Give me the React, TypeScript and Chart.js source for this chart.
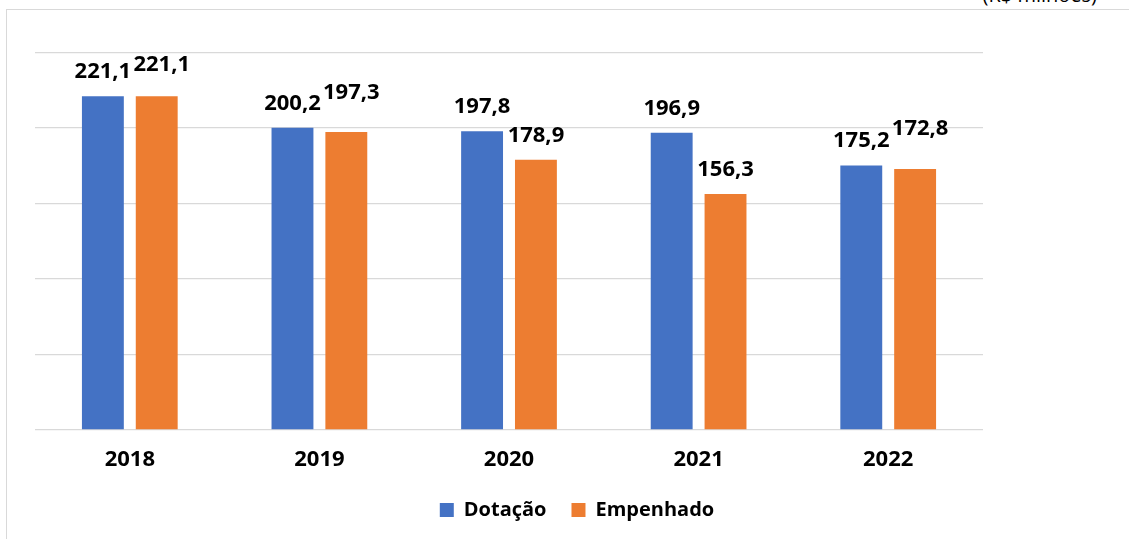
import React, { useEffect, useRef } from "react";
import { Chart, registerables } from "chart.js";

Chart.register(...registerables);

const categories = ["2018", "2019", "2020", "2021", "2022"];
const dotacao = [221.1, 200.2, 197.8, 196.9, 175.2];
const empenhado = [221.1, 197.3, 178.9, 156.3, 172.8];
const seriesNames = ["Dotação", "Empenhado"];
const unitLabel = "(R$ milhões)";

const BLUE = "#4472C4";
const ORANGE = "#ED7D31";
const GRID = "#d9d9d9";
const FONT = "'Open Sans', 'DejaVu Sans', sans-serif";

// label nudges (px) per dataset, to mimic the manual placement in the source
const labelNudges = [
  { dx: [0, 0, 0, 0, 0], dy: [0, 0, 0, 0, 0] },
  { dx: [5, 5, 0, 0, 5], dy: [-7, -15, 0, 0, -16] },
];

const fmt = (v: number) => v.toFixed(1).replace(".", ",");

const labelPlugin = {
  id: "barValueLabels",
  afterDatasetsDraw(chart: any) {
    const ctx = chart.ctx;
    ctx.save();
    ctx.font = `bold 22px ${FONT}`;
    ctx.fillStyle = "#000";
    ctx.textAlign = "center";
    ctx.textBaseline = "alphabetic";
    chart.data.datasets.forEach((ds: any, di: number) => {
      const meta = chart.getDatasetMeta(di);
      meta.data.forEach((el: any, i: number) => {
        const n = labelNudges[di];
        ctx.fillText(fmt(ds.data[i]), el.x + n.dx[i], el.y - 18 + n.dy[i]);
      });
    });
    ctx.restore();
  },
};

export default function App() {
  const ref = useRef<HTMLCanvasElement | null>(null);
  useEffect(() => {
    if (!ref.current) return;
    const chart = new Chart(ref.current, {
      type: "bar",
      data: {
        labels: categories,
        datasets: [
          {
            label: seriesNames[0],
            data: dotacao,
            backgroundColor: BLUE,
            categoryPercentage: 0.568,
            barPercentage: 0.778,
          },
          {
            label: seriesNames[1],
            data: empenhado,
            backgroundColor: ORANGE,
            categoryPercentage: 0.568,
            barPercentage: 0.778,
          },
        ],
      },
      options: {
        animation: false,
        responsive: false,
        maintainAspectRatio: false,
        layout: { padding: { left: 0, right: 0, top: 42.5, bottom: 9 } },
        plugins: {
          tooltip: { enabled: false },
          legend: {
            position: "bottom",
            labels: {
              boxWidth: 14,
              boxHeight: 14,
              padding: 25,
              color: "#000",
              font: { family: FONT, size: 20, weight: "bold" },
            },
          },
        },
        scales: {
          x: {
            grid: { display: false },
            border: { display: false },
            ticks: {
              color: "#000",
              font: { family: FONT, size: 22, weight: "bold" },
              padding: 9,
            },
            afterFit: (s: any) => {
              s.height = 45;
            },
          },
          y: {
            min: 0,
            max: 250,
            ticks: { display: false, stepSize: 50 },
            border: { display: false },
            grid: { color: GRID, lineWidth: 1.3, drawTicks: false },
            afterFit: (s: any) => {
              s.width = 28;
            },
          },
          y2: {
            position: "right",
            min: 0,
            max: 1,
            ticks: { display: false },
            border: { display: false },
            grid: { display: false, drawTicks: false },
            afterFit: (s: any) => {
              s.width = 164;
            },
          },
        },
      },
      plugins: [labelPlugin],
    });
    return () => chart.destroy();
  }, []);

  return (
    <div
      style={{
        position: "fixed",
        left: 0,
        top: 0,
        width: 1129,
        height: 539,
        overflow: "hidden",
        background: "#fff",
      }}
    >
      <div
        style={{
          position: "absolute",
          right: 32,
          top: -19,
          fontFamily: FONT,
          fontSize: 20,
          color: "#000",
          whiteSpace: "nowrap",
          lineHeight: "28px",
        }}
      >
        {unitLabel}
      </div>
      <div
        style={{
          position: "absolute",
          left: 6,
          top: 9,
          width: 1141,
          height: 600,
          borderLeft: `1px solid ${GRID}`,
          borderTop: `1px solid ${GRID}`,
        }}
      >
        <canvas
          ref={ref}
          width={1140}
          height={529}
          style={{ display: "block", width: 1140, height: 529 }}
        />
      </div>
    </div>
  );
}
